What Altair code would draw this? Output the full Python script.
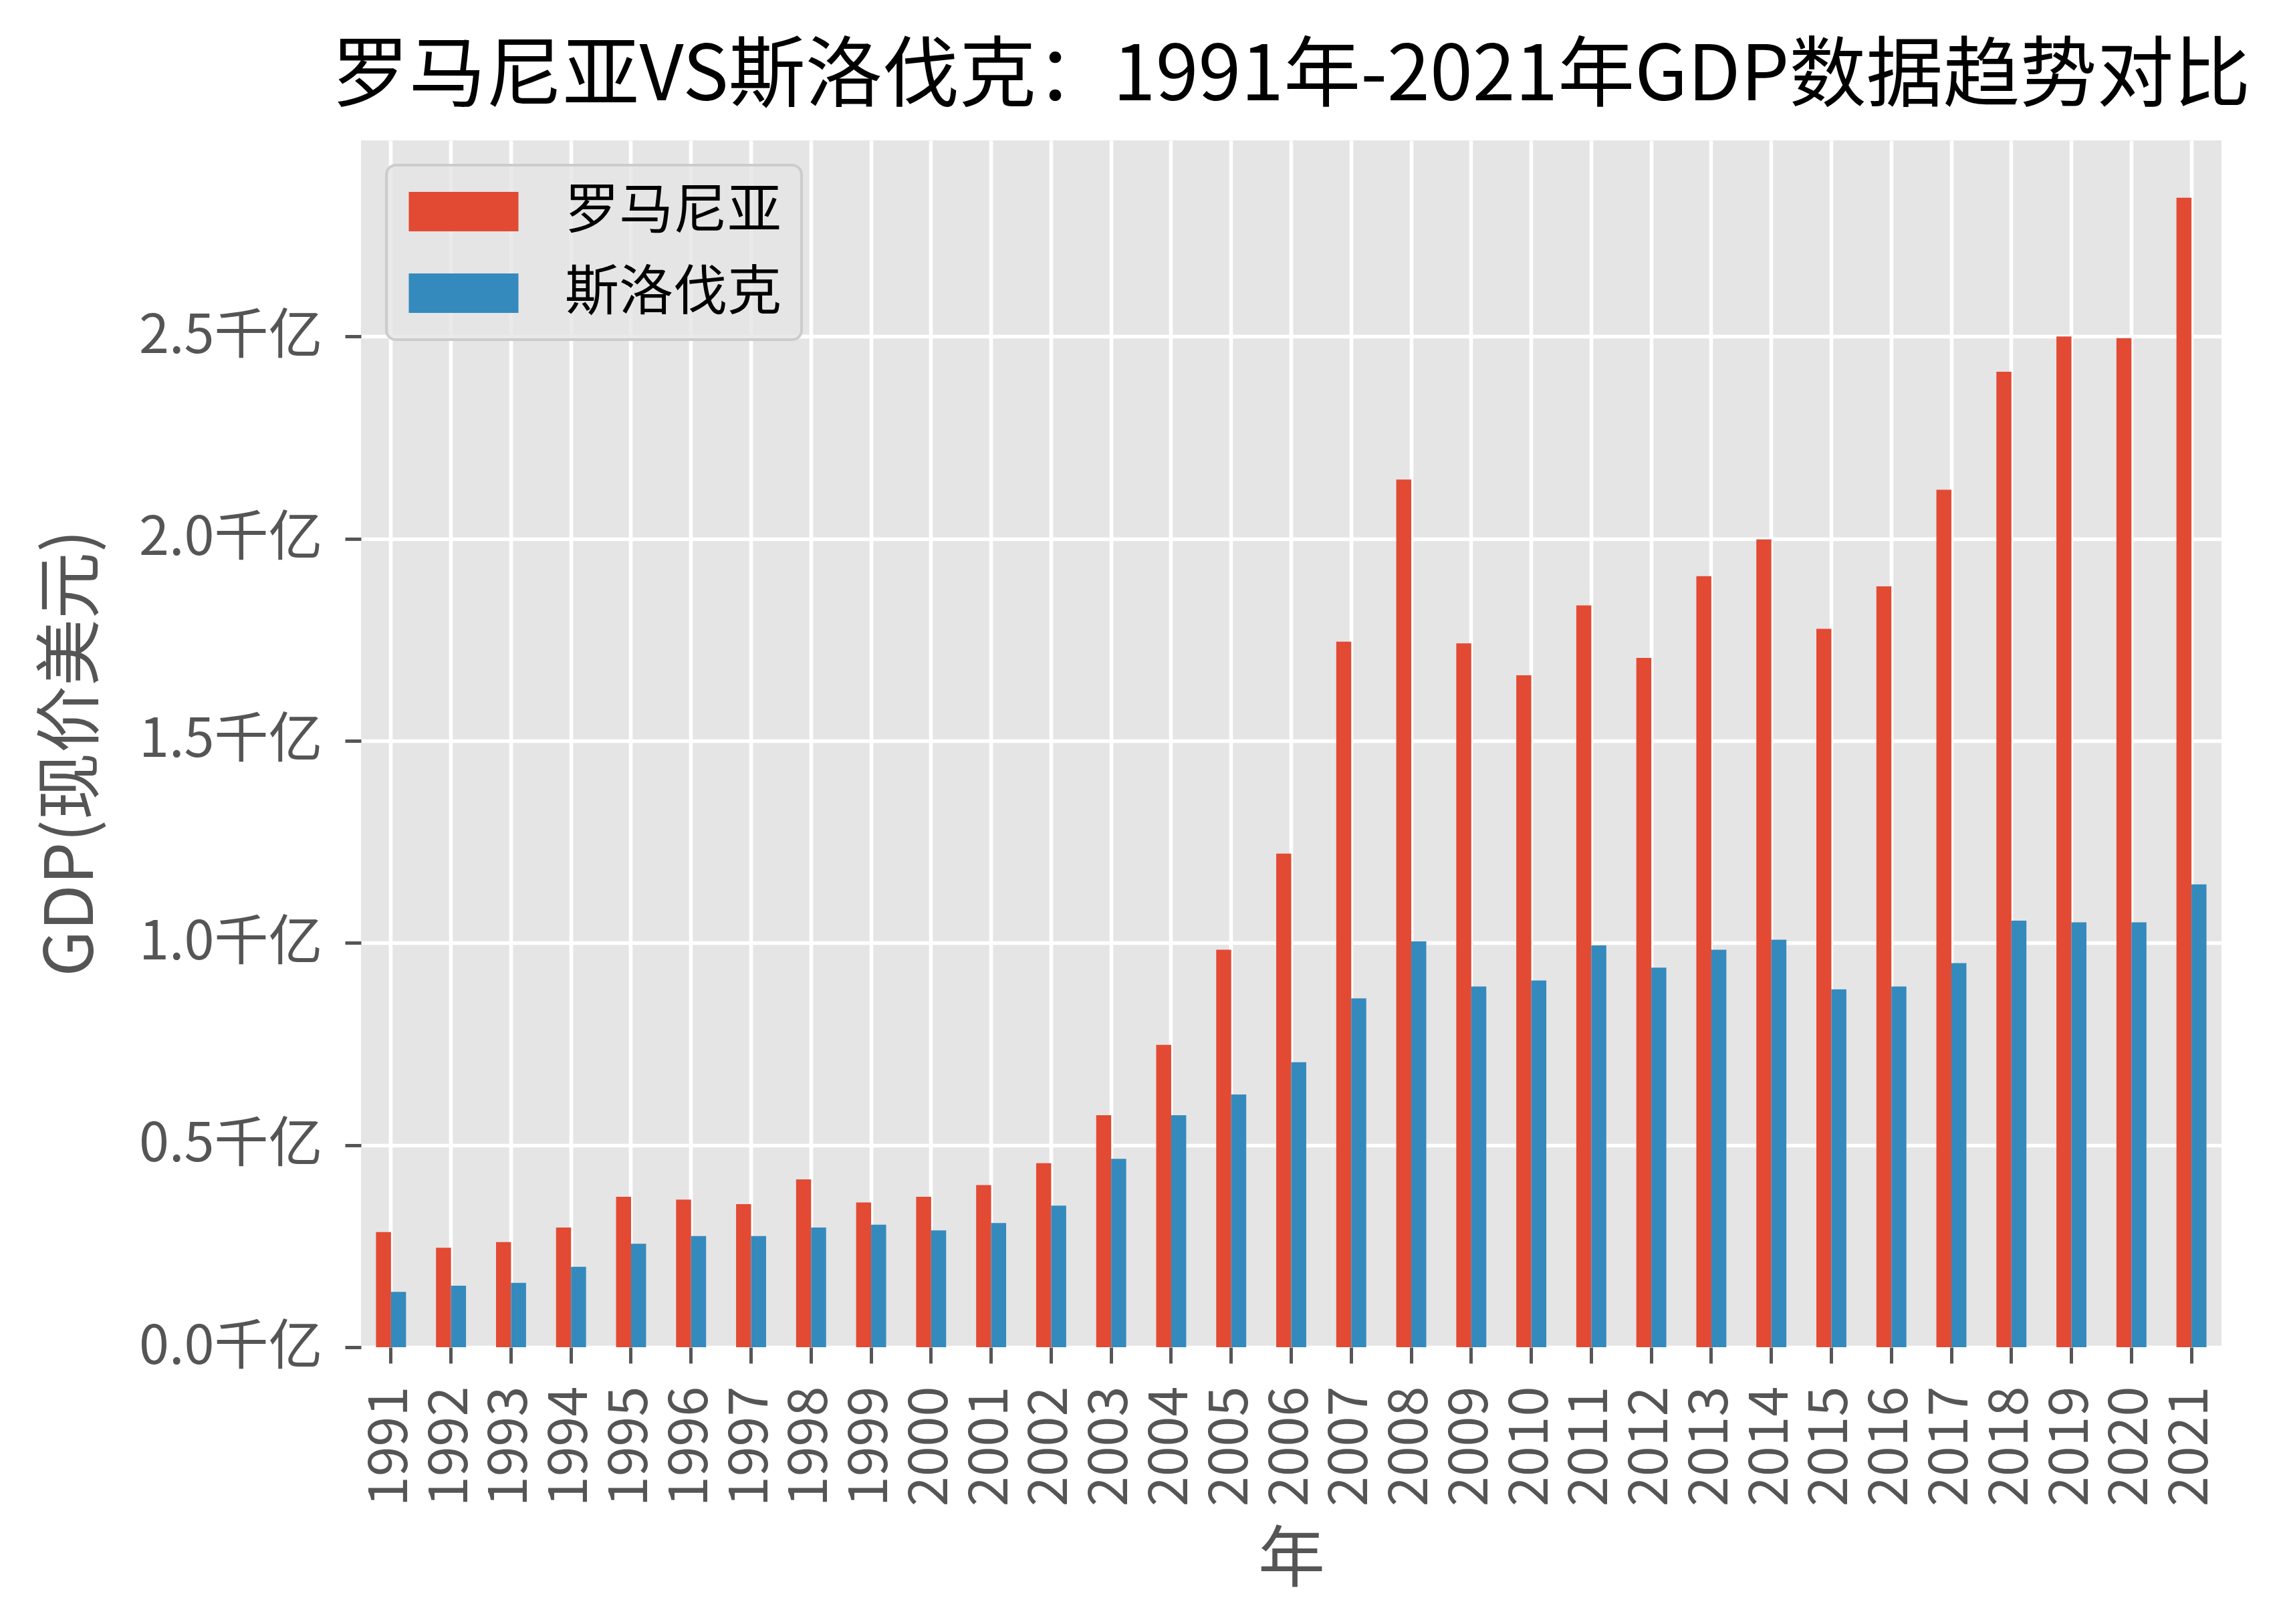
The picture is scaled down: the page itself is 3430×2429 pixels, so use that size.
import altair as alt
import pandas as pd

years = ["1991", "1992", "1993", "1994", "1995", "1996", "1997", "1998", "1999", "2000",
         "2001", "2002", "2003", "2004", "2005", "2006", "2007", "2008", "2009", "2010",
         "2011", "2012", "2013", "2014", "2015", "2016", "2017", "2018", "2019", "2020", "2021"]
countries = ["罗马尼亚", "斯洛伐克"]
romania = [0.285, 0.246, 0.260, 0.296, 0.372, 0.365, 0.354, 0.415, 0.358, 0.372,
           0.401, 0.455, 0.574, 0.748, 0.983, 1.221, 1.745, 2.146, 1.741, 1.662,
           1.835, 1.705, 1.907, 1.998, 1.777, 1.882, 2.121, 2.413, 2.500, 2.496, 2.843]
slovakia = [0.137, 0.152, 0.159, 0.199, 0.256, 0.275, 0.275, 0.296, 0.303, 0.289,
            0.307, 0.350, 0.466, 0.574, 0.625, 0.705, 0.863, 1.004, 0.892, 0.907,
            0.994, 0.939, 0.983, 1.008, 0.885, 0.892, 0.950, 1.055, 1.051, 1.051, 1.145]
colors = ["#E24A33", "#348ABD"]
y_ticks = [0, 0.5, 1.0, 1.5, 2.0, 2.5]

df = pd.DataFrame({
    "年": years * 2,
    "国家": [countries[0]] * len(years) + [countries[1]] * len(years),
    "GDP": romania + slovakia,
})

FONT = "Noto Sans CJK SC"

chart = alt.Chart(df).mark_bar().encode(
    x=alt.X("年:N", sort=years,
            scale=alt.Scale(paddingInner=0.5, paddingOuter=0.25),
            axis=alt.Axis(title="年", labelAngle=270, grid=True, bandPosition=0.5,
                          labelPadding=34, titlePadding=70, labelLimit=0)),
    xOffset=alt.XOffset("国家:N", sort=countries,
                        scale=alt.Scale(paddingInner=0, paddingOuter=0)),
    y=alt.Y("GDP:Q", scale=alt.Scale(domain=[0, 2.985], nice=False, zero=True),
            axis=alt.Axis(title="GDP(现价美元)", values=y_ticks, grid=True,
                          labelExpr="format(datum.value, '.1f') + '千亿'",
                          labelPadding=34, labelLimit=0,
                          titleX=-381, titleY=916, titleAngle=270)),
    color=alt.Color("国家:N", scale=alt.Scale(domain=countries, range=colors),
                    legend=alt.Legend(
                        title=None, orient="none", legendX=38, legendY=37,
                        symbolType="M-2.78,-1L2.78,-1L2.78,1L-2.78,1Z",
                        symbolSize=3481, symbolStrokeWidth=0, symbolOpacity=1,
                        symbolOffset=46,
                        labelFont=FONT, labelFontSize=81, labelColor="#000000",
                        labelOffset=111, rowPadding=40, padding=29, labelLimit=0,
                        fillColor="rgba(229,229,229,0.8)", strokeColor="#CCCCCC",
                        cornerRadius=14)),
).properties(
    width=2783,
    height=1805,
    title=alt.TitleParams(text="罗马尼亚VS斯洛伐克：1991年-2021年GDP数据趋势对比",
                          font=FONT, fontSize=115, fontWeight="normal", color="#000000",
                          anchor="middle", offset=36),
    autosize=alt.AutoSizeParams(type="none"),
    padding={"left": 532, "top": 202, "right": 90, "bottom": 390},
).configure_view(
    fill="#E5E5E5", stroke=None
).configure_axis(
    domain=False,
    labelFont=FONT, labelFontSize=81, labelColor="#555555",
    titleFont=FONT, titleFontSize=100, titleColor="#555555", titleFontWeight="normal",
    tickColor="#555555", tickSize=24, tickWidth=5,
    gridColor="#FFFFFF", gridWidth=5.6, gridOpacity=1,
).configure_legend(
    strokeWidth=4
)

chart.save("out.html", embed_options={"renderer": "svg", "actions": False})
